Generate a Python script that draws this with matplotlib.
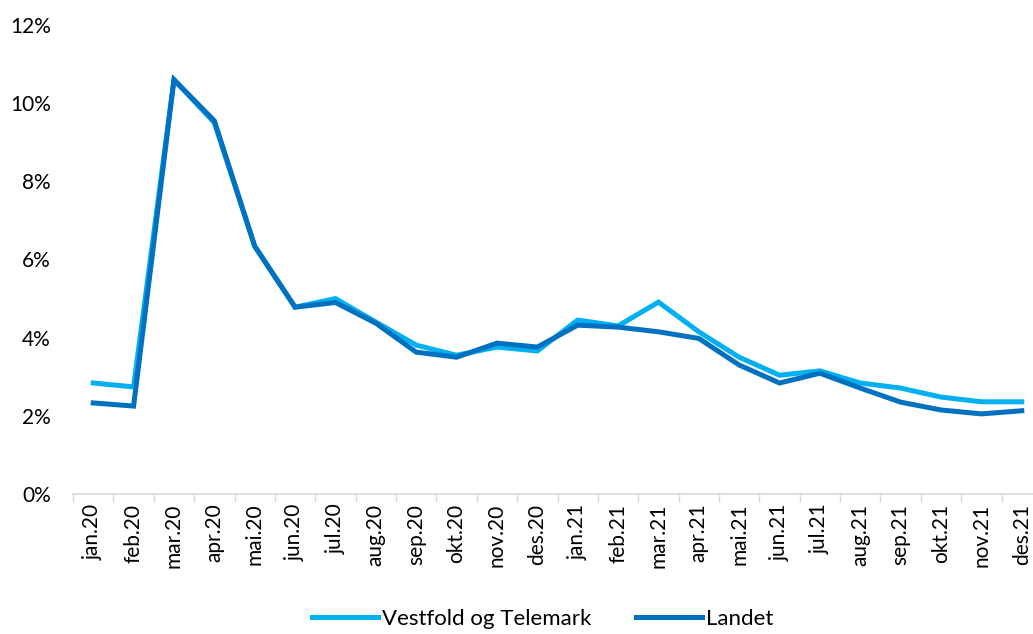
import numpy as np
import matplotlib
matplotlib.use("Agg")
import matplotlib.pyplot as plt
from matplotlib.ticker import FuncFormatter, FixedLocator

months = ["jan.20", "feb.20", "mar.20", "apr.20", "mai.20", "jun.20", "jul.20", "aug.20",
          "sep.20", "okt.20", "nov.20", "des.20", "jan.21", "feb.21", "mar.21", "apr.21",
          "mai.21", "jun.21", "jul.21", "aug.21", "sep.21", "okt.21", "nov.21", "des.21"]

vestfold = [2.84, 2.74, 10.6, 9.5, 6.34, 4.78, 5.0, 4.4, 3.81, 3.55, 3.76, 3.66,
            4.45, 4.3, 4.91, 4.15, 3.5, 3.04, 3.15, 2.84, 2.71, 2.48, 2.36, 2.36]
landet = [2.33, 2.25, 10.6, 9.55, 6.34, 4.78, 4.9, 4.37, 3.63, 3.5, 3.86, 3.76,
          4.32, 4.27, 4.15, 3.98, 3.3, 2.84, 3.09, 2.71, 2.35, 2.15, 2.05, 2.13]

series_names = ["Vestfold og Telemark", "Landet"]
colors = ["#00B0F0", "#0070C0"]

plt.rcParams["font.family"] = ["Lato", "DejaVu Sans"]

fig = plt.figure(figsize=(10.33, 6.34), dpi=100)
ax = fig.add_axes([0.0707, 0.2208, 0.938, 0.7398])

x = np.arange(len(months))
ax.plot(x, vestfold, color=colors[0], lw=3.6, label=series_names[0], solid_joinstyle="miter")
ax.plot(x, landet, color=colors[1], lw=3.6, label=series_names[1], solid_joinstyle="miter")

ax.set_xlim(-0.5, len(months) - 0.5)
ax.set_ylim(0, 12)
ax.set_yticks(np.arange(0, 13, 2))
ax.yaxis.set_major_formatter(FuncFormatter(lambda v, p: f"{v:.0f}%"))

ax.set_xticks(x)
ax.set_xticklabels(months, rotation=90, fontsize=15)
ax.tick_params(axis="x", which="major", length=0, pad=7)
ax.xaxis.set_minor_locator(FixedLocator(np.arange(-0.5, len(months), 1)))
ax.tick_params(axis="x", which="minor", length=6, color="#d9d9d9", width=1)
ax.tick_params(axis="y", length=0, labelsize=15, pad=16)

for s in ["top", "right", "left"]:
    ax.spines[s].set_visible(False)
ax.spines["bottom"].set_color("#d9d9d9")
ax.spines["bottom"].set_linewidth(1.2)

fig.legend(loc="center", bbox_to_anchor=(0.525, 0.024), ncol=2, frameon=False,
           fontsize=16, handlelength=3.0, columnspacing=2.0, handletextpad=0.15)

fig.savefig("out.png", dpi=100)
